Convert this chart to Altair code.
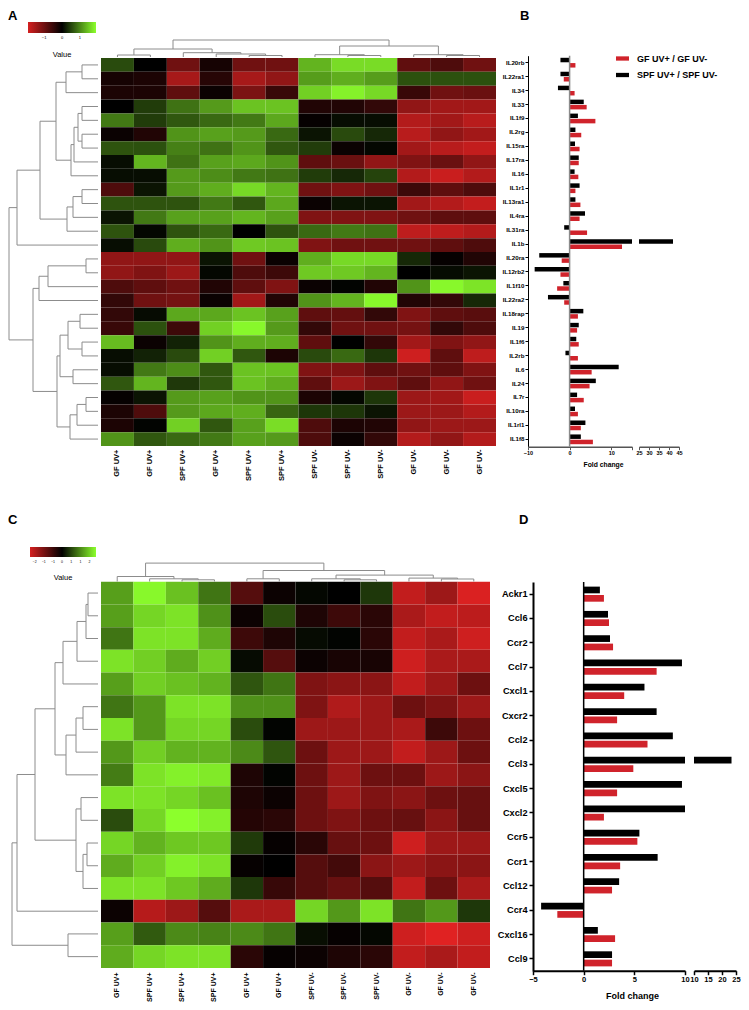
import json
import altair as alt
import pandas as pd

W, H = 733, 994
FONT = "Liberation Sans"
GF = "GF UV+ / GF UV-"
SPF = "SPF UV+ / SPF UV-"
RED = "#d0232b"
BLACK = "#000000"
HEAT_RANGE = ["#d42020", "#000000", "#8cff2c"]
DCOL = "#8c8c8c"

# ---------------- Panel A heatmap ----------------
cols_a = ["GF UV+", "GF UV+", "SPF UV+", "GF UV+", "SPF UV+", "SPF UV+",
          "SPF UV-", "SPF UV-", "SPF UV-", "GF UV-", "GF UV-", "GF UV-"]
heat_a = [
    [0.56, 0.0, -1.0, -0.2, -1.0, -1.0, 1.34, 1.64, 1.64, -0.86, -0.7, -1.0],
    [-0.2, -0.25, -1.5, -0.35, -1.5, -1.3, 1.17, 1.3, 1.17, 0.6, 0.6, 0.6],
    [-0.25, -0.25, -0.85, -0.1, -1.1, -0.5, 1.55, 1.8, 1.62, -0.5, -1.0, -0.95],
    [0.0, 0.45, 0.85, 1.15, 1.45, 1.45, -0.3, -0.3, -0.45, -1.3, -1.45, -1.45],
    [0.9, 0.45, 0.65, 0.78, 0.9, 1.25, -0.05, 0.1, 0.1, -1.6, -1.45, -1.65],
    [-0.1, -0.3, 1.1, 1.2, 1.15, 0.78, 0.15, 0.55, 0.3, -1.65, -1.3, -1.45],
    [0.62, 0.6, 0.95, 0.85, 1.1, 0.65, 0.45, -0.1, 0.05, -1.45, -1.65, -1.75],
    [0.1, 1.35, 0.85, 1.2, 1.25, 1.1, -0.85, -0.95, -1.3, -1.15, -0.95, -1.3],
    [0.1, 0.1, 1.15, 1.05, 0.9, 0.85, 0.45, 0.3, 0.5, -1.6, -1.8, -1.6],
    [-0.7, 0.15, 1.15, 1.3, 1.62, 1.35, -1.0, -1.15, -1.0, -0.55, -0.85, -0.7],
    [0.62, 0.62, 0.62, 0.9, 0.65, 1.25, -0.1, 0.15, 0.15, -1.45, -1.6, -1.75],
    [0.15, 0.9, 1.2, 1.2, 1.35, 1.2, -1.15, -1.15, -1.15, -1.0, -0.85, -0.85],
    [0.62, 0.05, 0.62, 0.78, 0.0, 0.62, 0.78, 0.9, 0.85, -1.7, -1.7, -1.6],
    [0.1, 0.55, 1.3, 1.1, 1.5, 1.45, -1.15, -1.0, -1.0, -1.0, -0.85, -0.7],
    [-1.3, -1.3, -1.3, 0.15, -1.0, -0.1, 1.3, 1.62, 1.62, 0.3, -0.05, -0.3],
    [-1.3, -1.15, -1.4, 0.05, -0.7, -0.55, 1.5, 1.5, 1.35, 0.0, 0.08, 0.15],
    [-0.7, -0.85, -1.0, -0.3, -0.85, -1.15, -0.1, 0.03, -0.3, 1.1, 1.85, 1.7],
    [-0.45, -1.0, -1.05, -0.1, -1.45, -0.3, 1.1, 1.35, 1.85, -0.3, -0.45, 0.3],
    [-0.45, 0.08, 1.25, 1.25, 1.45, 1.2, -0.85, -0.9, -0.45, -1.15, -0.85, -0.8],
    [-0.5, 0.6, -0.55, 1.55, 1.85, 1.15, -0.45, -1.0, -1.0, -1.05, -0.45, -0.7],
    [1.4, -0.1, 0.25, 1.1, 1.3, 1.3, -0.85, 0.0, -0.45, -1.45, -1.15, -1.3],
    [0.1, 0.25, 0.55, 1.55, 0.65, -0.25, 0.55, 0.78, 0.4, -1.85, -0.85, -1.7],
    [0.1, 0.9, 1.05, 0.65, 1.45, 1.45, -1.15, -1.15, -0.85, -1.0, -0.85, -1.15],
    [0.65, 1.35, 0.42, 0.65, 1.45, 1.3, -0.85, -1.4, -1.15, -0.85, -1.3, -1.0],
    [-0.05, 0.15, 1.15, 1.2, 1.1, 1.1, -0.25, 0.05, 0.4, -1.4, -1.45, -1.8],
    [-0.25, -0.7, 1.15, 1.25, 1.3, 0.75, 0.4, 0.4, 0.15, -1.4, -1.4, -1.6],
    [-0.25, 0.03, 1.55, 0.65, 1.2, 1.65, -0.7, -0.25, -0.3, -1.3, -1.4, -1.4],
    [1.1, 0.65, 0.78, 0.9, 1.2, 1.15, -0.7, -0.1, -0.45, -1.6, -1.3, -1.6],
]
# dendrograms: [merge height, left, right]; leaves are row/column indices
tree_a_rows = [89,
               [81, [58, [42, [32, [16, 0, 1], 2],
                          [27, [24, [20, [16, 3, 4], [16, 5, 6]], 7], 8]],
                     [31, [25, [16, 9, 10], 11], 12]], 13],
               [65, [59, [50, [12, 14, 15], 16], 17],
                [41, [38, [30, [18, 18, 19], [16, 20, 21]], [25, 22, 23]],
                 [28, [21, [12, 24, 25], 26], 27]]]]
tree_a_cols = [17, [8, [2, 0, 1], [4.3, 2, [3, 3, [1.5, 4, 5]]]],
               [11, [2.3, 6, [1.5, 7, 8]], [2.3, 9, [1.5, 10, 11]]]]

# ---------------- Panel B bars ----------------
genes_b = ["IL20rb", "IL22ra1", "IL34", "IL33", "IL1f9", "IL2rg", "IL15ra", "IL17ra",
           "IL16", "IL1r1", "IL13ra1", "IL4ra", "IL31ra", "IL1b", "IL20ra", "IL12rb2",
           "IL1f10", "IL22ra2", "IL18rap", "IL19", "IL1f6", "IL2rb", "IL6", "IL24",
           "IL7r", "IL10ra", "IL1rl1", "IL1f8"]
fold_gf_b = [1.4, -1.4, 1.2, 4.1, 6.2, 2.8, 2.4, 2.2, 2.1, 1.4, 2.6, 2.4, 4.2, 12.6,
             -1.9, -2.2, -3.0, -1.3, 2.0, 1.8, 2.2, 2.0, 5.3, 4.8, 3.4, 2.0, 2.7, 5.6]
fold_spf_b = [-2.2, -2.2, -2.8, 3.4, 2.0, 1.4, 1.3, 2.2, 1.2, 2.4, 1.4, 3.7, -1.3, 42.0,
              -7.3, -8.4, -1.5, -5.2, 3.3, 2.2, 1.6, -1.0, 11.8, 6.3, 1.8, 1.3, 3.8, 2.7]

# ---------------- Panel C heatmap ----------------
cols_c = ["GF UV+", "SPF UV+", "SPF UV+", "SPF UV+", "GF UV+", "GF UV+",
          "SPF UV-", "SPF UV-", "SPF UV-", "GF UV-", "GF UV-", "GF UV-"]
heat_c = [
    [1.15, 1.8, 1.4, 0.85, -0.7, -0.1, 0.05, 0.0, 0.4, -1.6, -1.3, -1.8],
    [1.15, 1.55, 1.65, 1.05, -0.1, 0.55, -0.25, -0.5, -0.35, -1.4, -1.6, -1.55],
    [0.85, 1.65, 1.65, 1.25, -0.5, -0.25, 0.08, 0.03, -0.35, -1.6, -1.4, -1.7],
    [1.65, 1.5, 1.25, 1.5, 0.08, -0.7, -0.1, -0.2, -0.2, -1.7, -1.4, -1.4],
    [1.15, 1.5, 1.4, 1.3, 0.62, 0.85, -1.05, -1.15, -1.15, -1.6, -1.3, -0.9],
    [0.85, 1.1, 1.65, 1.65, 1.05, 1.05, -1.05, -1.45, -1.3, -0.9, -1.05, -1.3],
    [1.65, 1.1, 1.55, 1.55, 0.55, 0.03, -1.3, -1.3, -1.3, -1.4, -0.5, -0.9],
    [1.1, 1.5, 1.3, 1.3, 1.0, 0.62, -0.9, -1.3, -1.3, -1.6, -1.3, -0.9],
    [0.9, 1.65, 1.75, 1.7, -0.25, 0.03, -0.9, -1.3, -0.9, -0.9, -1.3, -1.15],
    [1.65, 1.65, 1.55, 1.4, -0.25, -0.1, -0.9, -1.3, -1.05, -1.15, -0.9, -0.85],
    [0.55, 1.55, 1.85, 1.75, -0.3, -0.35, -0.9, -1.05, -0.9, -0.85, -1.15, -0.85],
    [1.55, 1.3, 1.45, 1.45, 0.42, -0.05, -0.35, -0.85, -0.9, -1.7, -1.3, -1.3],
    [1.25, 1.5, 1.75, 1.65, -0.05, 0.0, -0.7, -0.55, -1.15, -1.3, -1.15, -1.15],
    [1.65, 1.65, 1.45, 1.25, 0.4, -0.45, -0.7, -0.85, -0.7, -1.6, -0.9, -1.4],
    [-0.1, -1.5, -1.3, -0.7, -1.4, -1.4, 1.55, 1.1, 1.65, 0.85, 1.1, 0.4],
    [1.15, 0.65, 1.0, 0.95, 1.0, 0.85, 0.1, -0.05, 0.05, -1.7, -1.85, -1.7],
    [1.25, 1.55, 1.65, 1.65, -0.35, -0.05, -0.1, -0.25, -0.35, -1.6, -1.4, -1.6],
]
tree_c_rows = [86, [81, [63, [43, [35, [21, [12, [10, 0, 1], 2], 3], 4],
                               [32, [22, [15, 5, 6], 7], 8]],
                         [22, [17, 9, 10], [15, [11, 11, 12], 13]]], 14],
               [30, 15, 16]]
tree_c_cols = [18.4, [5, 0, [2.7, 1, [1.7, 2, 3]]],
               [11, [2.7, 4, 5], [6.4, [2.7, 6, [1.7, 7, 8]], [3.4, 9, [2.5, 10, 11]]]]]

# ---------------- Panel D bars ----------------
genes_d = ["Ackr1", "Ccl6", "Ccr2", "Ccl7", "Cxcl1", "Cxcr2", "Ccl2", "Ccl3",
           "Cxcl5", "Cxcl2", "Ccr5", "Ccr1", "Ccl12", "Ccr4", "Cxcl16", "Ccl9"]
fold_gf_d = [2.0, 2.5, 2.9, 7.2, 4.0, 3.3, 6.3, 4.9, 3.3, 2.0, 5.3, 3.6, 2.8, -2.6, 3.1, 2.8]
fold_spf_d = [1.6, 2.4, 2.6, 9.7, 6.0, 7.2, 8.8, 23.4, 9.7, 10.0, 5.5, 7.3, 3.5, -4.2, 1.4, 2.8]


# ---------------- helpers ----------------
def dendro_segments(tree):
    segs = []

    def walk(node):
        if isinstance(node, int):
            return float(node), 0.0
        h, left, right = node
        pl, hl = walk(left)
        pr, hr = walk(right)
        segs.append(dict(p1=pl, p2=pl, h1=hl, h2=h))
        segs.append(dict(p1=pr, p2=pr, h1=hr, h2=h))
        segs.append(dict(p1=pl, p2=pr, h1=h, h2=h))
        return (pl + pr) / 2.0, h

    walk(tree)
    return pd.DataFrame(segs)


def lin(domain, rng):
    return alt.Scale(domain=domain, range=rng, nice=False, zero=False)


def row_dendro(tree, n, hrange, prange):
    df = dendro_segments(tree)
    return alt.Chart(df).mark_rule(color=DCOL, strokeWidth=1).encode(
        x=alt.X("h1:Q", scale=lin([0, tree[0]], hrange), axis=None),
        x2="h2:Q",
        y=alt.Y("p1:Q", scale=lin([-0.5, n - 0.5], prange), axis=None),
        y2="p2:Q",
    )


def col_dendro(tree, n, prange, hrange):
    df = dendro_segments(tree)
    return alt.Chart(df).mark_rule(color=DCOL, strokeWidth=1).encode(
        x=alt.X("p1:Q", scale=lin([-0.5, n - 0.5], prange), axis=None),
        x2="p2:Q",
        y=alt.Y("h1:Q", scale=lin([0, tree[0]], hrange), axis=None),
        y2="h2:Q",
    )


def heatmap(values, col_labels, xr, yr, axis_y, lab_size, lab_pad, cdomain, legend):
    df = pd.DataFrame([{"row": r, "col": c, "v": values[r][c]}
                       for r in range(len(values)) for c in range(len(values[r]))])
    expr = json.dumps(col_labels) + "[datum.value]"
    return alt.Chart(df).mark_rect().encode(
        x=alt.X("col:O", scale=alt.Scale(range=xr, paddingInner=0, paddingOuter=0),
                axis=alt.Axis(orient="bottom", offset=axis_y - H, labelExpr=expr,
                              labelAngle=270, domain=False, ticks=False,
                              labelPadding=lab_pad, labelFontSize=lab_size,
                              labelFontWeight="bold", labelColor="black", title=None)),
        y=alt.Y("row:O", scale=alt.Scale(range=yr, paddingInner=0, paddingOuter=0), axis=None),
        color=alt.Color("v:Q", scale=alt.Scale(domain=cdomain, range=HEAT_RANGE,
                                               interpolate="rgb"), legend=legend),
    )


def bar_df(genes, gf, spf):
    rows = []
    for g, a, b in zip(genes, gf, spf):
        rows.append({"gene": g, "series": GF, "value": a})
        rows.append({"gene": g, "series": SPF, "value": b})
    return pd.DataFrame(rows)


def bar_layers(df, genes, yr, pin, pout, seg1, seg1_range, seg2, seg2_range,
               axis_y, yaxis_x, seg1_ticks, seg2_ticks, style, legend):
    yscale = alt.Scale(domain=genes, range=yr, paddingInner=pin, paddingOuter=pout)
    yoff = alt.YOffset("series:N", scale=alt.Scale(domain=[SPF, GF], paddingInner=style["subpad"]))
    cscale = alt.Scale(domain=[GF, SPF], range=[RED, BLACK])
    lo, hi = seg1
    b1 = alt.Chart(df).transform_calculate(
        xc=f"max(min(datum.value, {hi}), {lo})"
    ).mark_bar().encode(
        x=alt.X("xc:Q", scale=lin(list(seg1), seg1_range),
                axis=alt.Axis(orient="bottom", offset=axis_y - H, values=seg1_ticks,
                              labelExpr=f"datum.value == {hi} && {style['hide_end']} ? '' : datum.label",
                              tickSize=style["tick"], domainColor=style["axcol"], tickColor=style["axcol"],
                              domainWidth=style["dw"], tickWidth=style["tw"],
                              labelFontSize=style["xlab"], labelFontWeight="bold", labelPadding=1,
                              title="Fold change", titleFontSize=style["title"], titleFontWeight="bold",
                              titleX=style["titleX"], titleY=style["titleY"], titleBaseline="middle")),
        x2=alt.datum(0),
        y=alt.Y("gene:N", scale=yscale,
                axis=alt.Axis(orient="left", offset=-yaxis_x, tickSize=style["ytick"],
                              labelFontSize=style["ylab"], labelFontWeight="bold",
                              labelPadding=style["ypad"], domainColor="black", tickColor="black",
                              domainWidth=style["ydw"], tickWidth=style["ytw"], title=None)),
        yOffset=yoff,
        color=alt.Color("series:N", scale=cscale, legend=legend),
    )
    zero = alt.Chart(pd.DataFrame({"z": [0]})).mark_rule(
        color=style["zcol"], strokeWidth=1.5
    ).encode(x=alt.datum(0), y=alt.value(yr[0]), y2=alt.value(axis_y))
    s_lo, s_hi = seg2
    b2 = alt.Chart(df).transform_filter(f"datum.value > {s_lo}").mark_bar().encode(
        x=alt.X("value:Q", scale=lin(list(seg2), seg2_range),
                axis=alt.Axis(orient="bottom", offset=axis_y - H, values=seg2_ticks,
                              tickSize=style["tick"], domainColor=style["axcol"], tickColor=style["axcol"],
                              domainWidth=style["dw"], tickWidth=style["tw"],
                              labelFontSize=style["xlab"], labelFontWeight="bold", labelPadding=1,
                              title=None)),
        x2=alt.datum(s_lo),
        y=alt.Y("gene:N", scale=yscale, axis=None),
        yOffset=yoff,
        color=alt.Color("series:N", scale=cscale, legend=None),
    )
    return [alt.layer(b1, zero), b2]


def letter(t, x, y):
    return alt.Chart(pd.DataFrame({"t": [t]})).mark_text(
        font=FONT, fontSize=13, fontWeight="bold", align="left", baseline="alphabetic", color="black"
    ).encode(text="t:N", x=alt.value(x), y=alt.value(y))


# ---------------- build ----------------
legend_a = alt.Legend(orient="none", legendX=20, legendY=14, direction="horizontal",
                      gradientLength=68, gradientThickness=11, gradientStrokeWidth=0,
                      values=[-1, 0, 1], labelFontSize=4, labelOffset=3, labelColor="black",
                      title="Value", titleOrient="bottom", titleAnchor="middle",
                      titleFontSize=7.5, titleFontWeight="normal", titleColor="black",
                      titlePadding=11, padding=0)
legend_c = alt.Legend(orient="none", legendX=22, legendY=539, direction="horizontal",
                      gradientLength=66, gradientThickness=10, gradientStrokeWidth=0,
                      values=[-1.5, -1, -0.5, 0, 0.5, 1, 1.5], labelFontSize=3.5, labelOffset=3,
                      labelColor="black",
                      title="Value", titleOrient="bottom", titleAnchor="middle",
                      titleFontSize=7.5, titleFontWeight="normal", titleColor="black",
                      titlePadding=10, padding=0)
legend_b = alt.Legend(orient="none", legendX=608, legendY=44, title=None,
                      symbolType="M-1,-0.33H1V0.33H-1Z", symbolSize=169, symbolStrokeWidth=0,
                      labelFontSize=9, labelFontWeight="bold", labelColor="black",
                      labelOffset=8, rowPadding=4.5, padding=0)

heat_a_chart = heatmap(heat_a, cols_a, [93, 488], [50, 438], 438, 7.5, 3,
                       [-1.9, 0, 1.9], legend_a)
rows_a = row_dendro(tree_a_rows, 28, [90, 1], [50, 438])
colsd_a = col_dendro(tree_a_cols, 12, [93, 488], [49, 32])

heat_c_chart = heatmap(heat_c, cols_c, [93, 482], [573.7, 960], 960, 7, 4,
                       [-1.75, 0, 1.85], legend_c)
rows_c = row_dendro(tree_c_rows, 17, [90, 4], [573.7, 960])
colsd_c = col_dendro(tree_c_cols, 12, [93, 482], [573.5, 555.1])

style_b = dict(subpad=0.15, tick=3, axcol="#555555", dw=1.5, tw=1, xlab=5.5, title=6.8,
               titleX=595, titleY=18, ytick=3, ylab=6.2, ypad=1, ydw=1, ytw=1,
               zcol="#8a8a8a", hide_end="true")
layers_b = bar_layers(bar_df(genes_b, fold_gf_b, fold_spf_b), genes_b, [47.7, 438.3], 0.3, 0.15,
                      (-10, 15), [520, 624], (25, 45), [631, 671], 438.7, 520,
                      [-10, 0, 10, 15], [25, 30, 35, 40, 45], style_b, legend_b)

style_d = dict(subpad=0.2, tick=4, axcol="black", dw=2, tw=1.5, xlab=7.5, title=9,
               titleX=624, titleY=25, ytick=4, ylab=9.2, ypad=2, ydw=2, ytw=1.5,
               zcol="black", hide_end="false")
layers_d = bar_layers(bar_df(genes_d, fold_gf_d, fold_spf_d), genes_d, [574, 963], 0.38, 0.19,
                      (-5, 10), [525, 677], (10, 25), [686, 728], 962.7, 525,
                      [-5, 0, 5, 10], [10, 15, 20, 25], style_d, None)

layers = [heat_a_chart, rows_a, colsd_a, *layers_b,
          heat_c_chart, rows_c, colsd_c, *layers_d,
          letter("A", 0, 12), letter("B", 512, 12), letter("C", 0, 516), letter("D", 511, 516)]

chart = alt.layer(*layers).resolve_scale(
    x="independent", y="independent", color="independent", yOffset="independent"
).resolve_axis(x="independent", y="independent").resolve_legend(color="independent").properties(
    width=W, height=H, autosize=alt.AutoSizeParams(type="none"), padding=0
).configure_view(stroke=None).configure_axis(
    grid=False, labelFlush=False, labelOverlap=False, labelFont=FONT, titleFont=FONT,
    labelColor="black", titleColor="black"
).configure_legend(labelFont=FONT, titleFont=FONT, labelColor="black", titleColor="black")

chart.save("out.html", embed_options={"renderer": "svg", "actions": False})
